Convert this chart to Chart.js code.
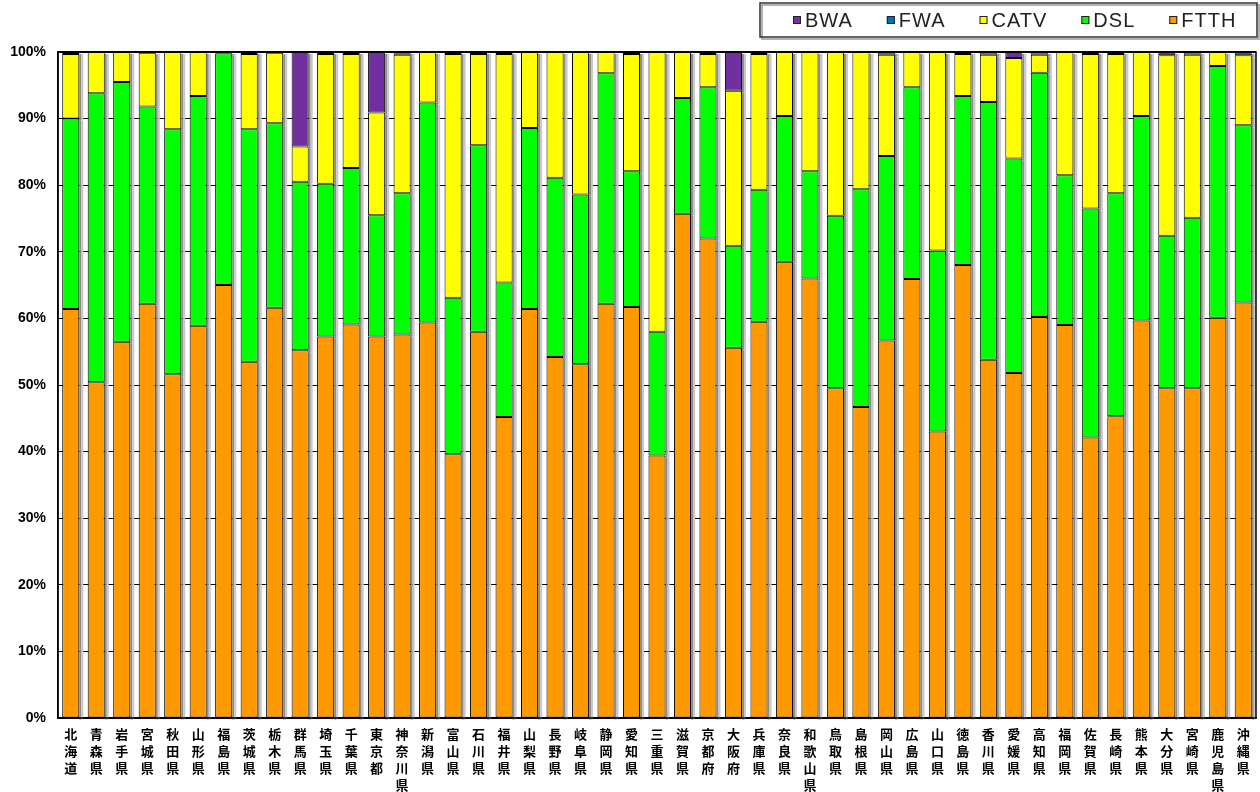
<!DOCTYPE html>
<html>
<head>
<meta charset="utf-8">
<script src="https://cdn.jsdelivr.net/npm/chart.js@4.4.0/dist/chart.umd.min.js"></script>
<style>
  html, body { margin: 0; padding: 0; background: #fff; }
  #wrap { width: 1260px; height: 792px; }
</style>
</head>
<body>
<div id="wrap"><canvas id="chart"></canvas></div>
<script>
// 都道府県
const prefectures = ['北海道','青森県','岩手県','宮城県','秋田県','山形県','福島県','茨城県','栃木県','群馬県',
  '埼玉県','千葉県','東京都','神奈川県','新潟県','富山県','石川県','福井県','山梨県','長野県',
  '岐阜県','静岡県','愛知県','三重県','滋賀県','京都府','大阪府','兵庫県','奈良県','和歌山県',
  '鳥取県','島根県','岡山県','広島県','山口県','徳島県','香川県','愛媛県','高知県','福岡県',
  '佐賀県','長崎県','熊本県','大分県','宮崎県','鹿児島県','沖縄県'];

// シェア (%)
const ftth = [61.4,50.4,56.5,62.2,51.6,58.9,65.0,53.5,61.6,55.2,57.3,59.1,57.3,57.6,59.4,39.6,58.0,45.2,61.4,54.2,
  53.1,62.2,61.7,39.4,75.7,72.0,55.6,59.5,68.5,66.0,49.5,46.7,56.7,65.9,43.0,68.0,53.8,51.8,60.2,59.0,
  42.1,45.3,59.7,49.5,49.5,60.1,62.4];
const dsl = [28.6,43.4,39.0,29.6,36.8,34.5,34.8,34.9,27.7,25.3,22.9,23.5,18.2,21.2,33.0,23.5,28.0,20.2,27.2,26.9,
  25.5,34.6,20.4,18.6,17.4,22.7,15.3,19.8,21.9,16.1,25.9,32.7,27.7,28.8,27.2,25.4,38.7,32.2,36.7,22.5,
  34.4,33.5,30.7,22.9,25.6,37.8,26.6];
const catv = [9.7,6.2,4.5,8.1,11.6,6.6,0.2,11.3,10.6,5.3,19.5,17.1,15.4,20.8,7.6,36.6,13.7,34.3,11.4,18.9,
  21.4,3.2,17.6,42.0,6.9,5.0,23.3,20.4,9.6,17.9,24.6,20.6,15.2,5.3,29.8,6.3,7.1,15.1,2.7,18.5,
  23.2,20.9,9.6,27.1,24.5,2.1,10.5];
const fwa = [0,0,0,0,0,0,0,0,0,0,0,0,0,0,0,0,0,0,0,0,
  0,0,0,0,0,0,0,0,0,0,0,0,0,0,0,0,0.4,0,0.4,0,
  0,0.3,0,0,0.4,0,0.5];
const bwa = [0.3,0,0,0.1,0,0,0,0.3,0.1,14.2,0.3,0.3,9.1,0.4,0,0.3,0.3,0.3,0,0,
  0,0,0.3,0,0,0.3,5.8,0.3,0,0,0,0,0.4,0,0,0.3,0,0.9,0,0,
  0.3,0,0,0.5,0,0,0];

const yTicks = [0,10,20,30,40,50,60,70,80,90,100];

// 縦書きラベル
const labels = prefectures.map(p => p.split(''));

// バーの右側の影 (バー要素の位置から描く)
const barShadow = {
    id: 'barShadow',
    beforeDatasetsDraw(chart) {
        const ctx = chart.ctx;
        ctx.save();
        chart.data.datasets.forEach((d, i) => {
            const meta = chart.getDatasetMeta(i);
            meta.data.forEach(bar => {
                const p = bar.getProps(['x', 'y', 'base', 'width'], true);
                const top = Math.min(p.y, p.base);
                const h = Math.abs(p.base - p.y);
                if (h <= 0) return;
                const right = p.x + p.width / 2;
                ctx.fillStyle = '#8c8c8c';
                ctx.fillRect(right, top + 2, 2, h);
                ctx.fillStyle = '#c8c8c8';
                ctx.fillRect(right + 2, top + 2, 2, h);
            });
        });
        ctx.restore();
    }
};

// 枠線と凡例
const frameAndLegend = {
    id: 'frameAndLegend',
    afterDraw(chart) {
        const ctx = chart.ctx;
        const a = chart.chartArea;
        ctx.save();
        ctx.strokeStyle = '#000';
        ctx.lineWidth = 1.5;
        ctx.strokeRect(a.left, a.top, a.right - a.left, a.bottom - a.top);
        ctx.lineWidth = 2;
        ctx.beginPath();
        ctx.moveTo(a.left, a.top);
        ctx.lineTo(a.right, a.top);
        ctx.stroke();

        // 凡例 (逆順)
        const items = Chart.defaults.plugins.legend.labels.generateLabels(chart).reverse();
        const boxL = 760, boxT = 3, boxR = chart.width - 3, boxB = 37;
        ctx.shadowColor = 'rgba(0,0,0,0.4)';
        ctx.shadowOffsetX = 2;
        ctx.shadowOffsetY = 2;
        ctx.lineWidth = 1.5;
        ctx.strokeStyle = '#333';
        ctx.strokeRect(boxL, boxT, boxR - boxL, boxB - boxT);
        ctx.shadowColor = 'transparent';

        ctx.font = '20px "Liberation Sans"';
        ctx.letterSpacing = '1px';
        ctx.textBaseline = 'middle';
        let x = boxL + 33;
        const cy = 20;
        items.forEach(item => {
            ctx.fillStyle = item.fillStyle;
            ctx.fillRect(x, cy - 4, 8, 8);
            ctx.strokeStyle = '#222';
            ctx.lineWidth = 1;
            ctx.strokeRect(x + 0.5, cy - 3.5, 7, 7);
            ctx.fillStyle = '#222';
            ctx.fillText(item.text, x + 12, cy + 1);
            x += 12 + ctx.measureText(item.text).width + 34;
        });
        ctx.restore();
    }
};

function ds(label, data, color) {
    return {
        label: label,
        data: data,
        backgroundColor: color,
        borderColor: '#000',
        borderWidth: 1,
        borderSkipped: false,
        barPercentage: 0.67,
        categoryPercentage: 1.0
    };
}

const ctx = document.getElementById('chart').getContext('2d');
new Chart(ctx, {
    type: 'bar',
    data: {
        labels: labels,
        datasets: [
            ds('FTTH', ftth, '#FF9900'),
            ds('DSL', dsl, '#00FF00'),
            ds('CATV', catv, '#FFFF00'),
            ds('FWA', fwa, '#0070C0'),
            ds('BWA', bwa, '#7030A0')
        ]
    },
    options: {
        responsive: true,
        maintainAspectRatio: false,
        animation: false,
        layout: {
            padding: { top: 52, right: 4, left: 0, bottom: 0 }
        },
        plugins: {
            legend: { display: false },
            tooltip: { enabled: false }
        },
        scales: {
            x: {
                stacked: true,
                grid: { display: false },
                border: { color: '#000', width: 1.5 },
                ticks: {
                    autoSkip: false,
                    maxRotation: 0,
                    minRotation: 0,
                    color: '#000',
                    padding: 0,
                    font: { family: 'Noto Sans CJK JP', size: 13, weight: 'bold', lineHeight: 1.3 }
                },
                afterFit(scale) { scale.height = 74; }
            },
            y: {
                stacked: true,
                min: 0,
                max: 100,
                afterBuildTicks(scale) {
                    scale.ticks = yTicks.map(v => ({ value: v }));
                },
                grid: { color: '#000', lineWidth: 1, drawTicks: false },
                border: { color: '#000', width: 1.5 },
                ticks: {
                    color: '#000',
                    padding: 12,
                    font: { family: 'Liberation Sans', size: 14, weight: 'bold' },
                    callback: v => v + '%'
                },
                afterFit(scale) { scale.width = 58; }
            }
        }
    },
    plugins: [barShadow, frameAndLegend]
});
</script>
</body>
</html>
